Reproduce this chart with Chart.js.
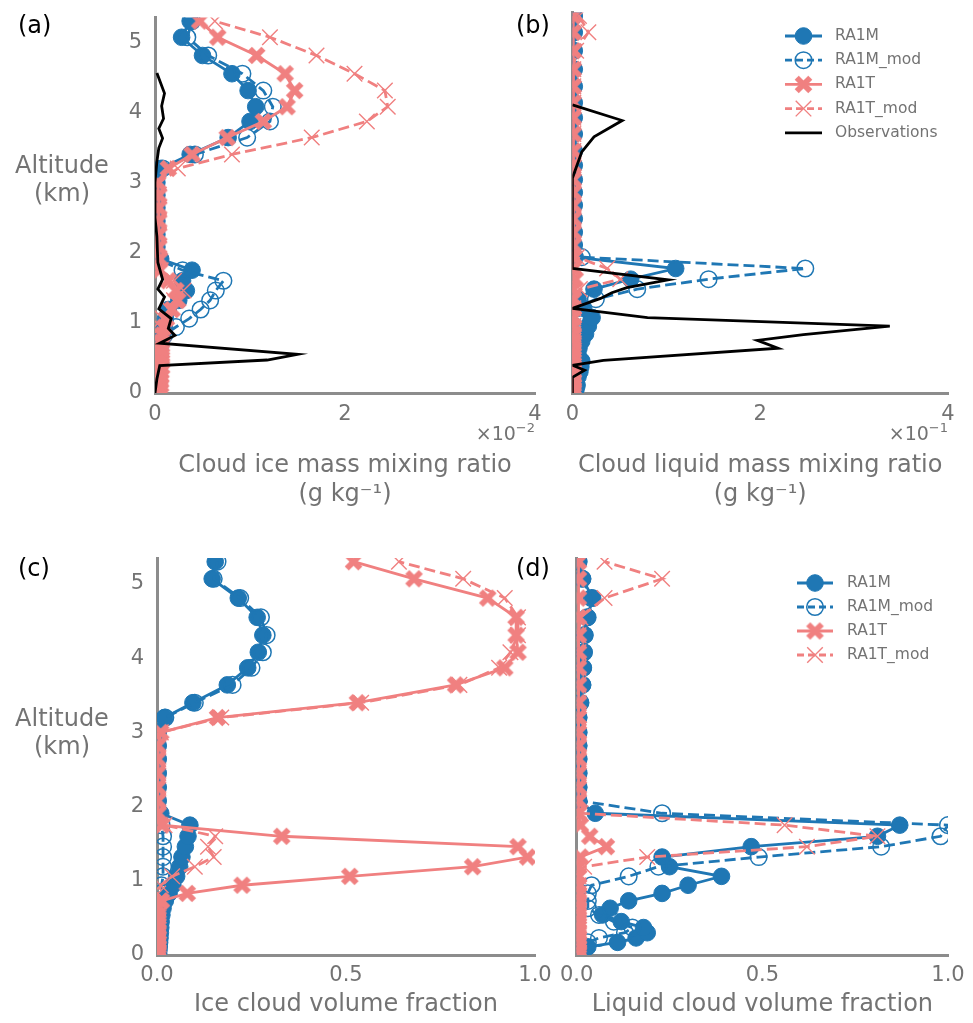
<!DOCTYPE html>
<html><head><meta charset="utf-8">
<script src="https://cdn.jsdelivr.net/npm/chart.js@4.4.0/dist/chart.umd.min.js"></script>
<style>
body{margin:0;background:#fff;}
#wrap{position:relative;width:973px;height:1023px;overflow:hidden;font-family:'DejaVu Sans',sans-serif;background:#fff;}
canvas{position:absolute;}
.lab{position:absolute;font-size:24px;color:#000;line-height:28px;white-space:nowrap;}
.ytitle{position:absolute;font-size:24px;color:#737373;text-align:center;line-height:28px;width:124px;left:0;}
.mult{position:absolute;font-size:19px;color:#737373;line-height:24px;white-space:nowrap;}
.mult sup{font-size:13px;vertical-align:top;position:relative;top:-5px;}
</style></head><body>
<div id="wrap">
<canvas id="ca" width="560" height="510" style="left:0;top:0"></canvas>
<canvas id="cb" width="413" height="510" style="left:560px;top:0"></canvas>
<canvas id="cc" width="560" height="513" style="left:0;top:510px"></canvas>
<canvas id="cd" width="413" height="513" style="left:560px;top:510px"></canvas>
<div class="lab" style="left:18px;top:11px">(a)</div>
<div class="lab" style="left:516px;top:11px">(b)</div>
<div class="lab" style="left:18px;top:554px">(c)</div>
<div class="lab" style="left:516px;top:554px">(d)</div>
<div class="ytitle" style="top:151px">Altitude<br>(km)</div>
<div class="ytitle" style="top:704px">Altitude<br>(km)</div>
<div class="mult" style="right:438px;top:421px">×10<sup>−2</sup></div>
<div class="mult" style="right:25px;top:421px">×10<sup>−1</sup></div>
</div>
<script>
// ---------------- DATA ----------------
const seriesNames = ['RA1M', 'RA1M_mod', 'RA1T', 'RA1T_mod', 'Observations'];
// model level altitudes (km), bottom to top
const levels = [0.02, 0.06, 0.11, 0.17, 0.23, 0.30, 0.37, 0.45, 0.54, 0.63,
                0.73, 0.83, 0.94, 1.06, 1.19, 1.32, 1.46, 1.60, 1.75, 1.91,
                2.08, 2.26, 2.45, 2.64, 2.82, 3.00, 3.20, 3.40, 3.64, 3.87,
                4.08, 4.31, 4.55, 4.81, 5.07, 5.30];
const yTicks = [0, 1, 2, 3, 4, 5];
const xTicksMass = [0, 2, 4];
const xTicksFrac = [0, 0.5, 1.0];

// (a) cloud ice mass mixing ratio (x10^-2 g/kg)
const iceRA1M = [0.02,0.02,0.03,0.03,0.03, 0.04,0.04,0.04,0.05,0.05,
                 0.06,0.08,0.10,0.11,0.14, 0.25,0.33,0.29,0.39,0.06,
                 0.02,0.02,0.02,0.02,0.02, 0.02,0.06,0.37,0.77,1.00,
                 1.06,0.98,0.81,0.50,0.28, 0.37];
const iceRA1Mmod = [0.01,0.01,0.02,0.02,0.02, 0.02,0.03,0.03,0.03,0.04,
                    0.06,0.10,0.22,0.36,0.48, 0.58,0.64,0.72,0.29,0.02,
                    0.01,0.01,0.01,0.01,0.01, 0.01,0.08,0.42,0.97,1.21,
                    1.24,1.14,0.92,0.56,0.34, 0.39];
const iceRA1T = [0.05,0.05,0.06,0.06,0.06, 0.06,0.07,0.07,0.07,0.07,
                 0.07,0.08,0.10,0.12,0.18, 0.24,0.22,0.14,0.05,0.05,
                 0.04,0.04,0.04,0.04,0.04, 0.03,0.14,0.39,0.76,1.14,
                 1.39,1.47,1.37,1.07,0.66, 0.47];
const iceRA1Tmod = [0.04,0.04,0.04,0.04,0.04, 0.04,0.04,0.04,0.04,0.04,
                    0.05,0.05,0.06,0.08,0.15, 0.20,0.30,0.20,0.06,0.04,
                    0.04,0.04,0.04,0.04,0.04, 0.04,0.24,0.81,1.65,2.23,
                    2.45,2.42,2.10,1.70,1.21, 0.63];
const obsIceAlt = [0.00,0.20,0.39,0.47,0.55,0.71,0.82,0.92,1.06,1.20,1.37,1.48,1.62,
                   1.86,2.23,2.50,3.00,3.30,3.49,3.63,3.77,3.91,4.09,4.27,4.56];
const obsIceVal = [0.00,0.02,0.05,1.18,1.50,0.05,0.21,0.14,0.17,0.04,0.10,0.03,0.08,
                   0.03,0.02,0.00,0.00,0.02,0.04,0.08,0.04,0.09,0.07,0.10,0.02];

// (b) cloud liquid mass mixing ratio (x10^-1 g/kg)
const liqRA1M = [0.03,0.04,0.05,0.04,0.06, 0.08,0.09,0.10,0.06,0.07,
                 0.10,0.14,0.17,0.21,0.12, 0.06,0.23,0.62,1.10,0.03,
                 0.02,0.02,0.02,0.02,0.02, 0.02,0.02,0.02,0.02,0.02,
                 0.02,0.02,0.02,0.02,0.02, 0.02];
const liqRA1Mmod = [0.02,0.02,0.02,0.02,0.02, 0.03,0.03,0.03,0.02,0.02,
                    0.02,0.02,0.02,0.03,0.04, 0.25,0.69,1.45,2.48,0.10,
                    0.01,0.01,0.01,0.01,0.01, 0.01,0.01,0.01,0.01,0.01,
                    0.01,0.01,0.01,0.01,0.01, 0.01];
const liqRA1T = [0.01,0.01,0.01,0.01,0.01, 0.01,0.01,0.01,0.01,0.01,
                 0.01,0.01,0.01,0.01,0.01, 0.01,0.01,0.03,0.01,0.01,
                 0.01,0.01,0.01,0.01,0.01, 0.01,0.01,0.01,0.01,0.01,
                 0.01,0.01,0.01,0.01,0.01, 0.01];
const liqRA1Tmod = [0.01,0.01,0.01,0.01,0.01, 0.01,0.01,0.01,0.01,0.01,
                    0.01,0.01,0.01,0.01,0.01, 0.01,0.08,0.51,0.37,0.05,
                    0.01,0.01,0.01,0.01,0.01, 0.01,0.01,0.01,0.01,0.01,
                    0.01,0.01,0.01,0.04,0.17, 0.07];
const obsLiqAlt = [0.00,0.22,0.32,0.39,0.46,0.63,0.74,0.82,0.94,1.06,1.19,1.33,1.41,
                   1.48,1.59,1.75,2.00,3.02,3.39,3.60,3.83,4.05];
const obsLiqVal = [0.00,0.00,0.13,0.00,0.33,2.19,1.97,2.46,3.38,0.80,0.00,0.30,0.42,
                   0.58,1.02,0.00,0.00,0.00,0.10,0.23,0.53,0.00];

// (c) ice cloud volume fraction
const iceFrRA1M = [0.004,0.005,0.006,0.007,0.008, 0.009,0.010,0.011,0.013,0.016,
                   0.022,0.032,0.042,0.052,0.060, 0.066,0.075,0.082,0.087,0.010,
                   0.003,0.003,0.003,0.003,0.003, 0.003,0.020,0.095,0.186,0.240,
                   0.268,0.280,0.265,0.215,0.146, 0.154];
const iceFrRA1Mmod = [0.003,0.003,0.004,0.004,0.005, 0.005,0.006,0.007,0.008,0.009,
                      0.010,0.011,0.012,0.016,0.016, 0.016,0.016,0.016,0.012,0.003,
                      0.002,0.002,0.002,0.002,0.002, 0.002,0.022,0.100,0.200,0.250,
                      0.280,0.290,0.275,0.220,0.150, 0.160];
const iceFrRA1T = [0.003,0.003,0.003,0.003,0.003, 0.003,0.003,0.003,0.003,0.003,
                   0.012,0.080,0.225,0.510,0.835, 0.980,0.955,0.330,0.013,0.003,
                   0.002,0.002,0.002,0.002,0.002, 0.010,0.160,0.530,0.790,0.920,
                   0.955,0.950,0.950,0.875,0.680, 0.520];
const iceFrRA1Tmod = [0.003,0.003,0.003,0.003,0.003, 0.003,0.003,0.003,0.003,0.003,
                      0.003,0.003,0.010,0.040,0.100, 0.150,0.135,0.154,0.020,0.003,
                      0.003,0.003,0.003,0.003,0.003, 0.010,0.170,0.540,0.800,0.905,
                      0.935,0.955,0.955,0.920,0.810, 0.640];

// (d) liquid cloud volume fraction
const liqFrRA1M = [0.005,0.010,0.030,0.110,0.160, 0.190,0.180,0.120,0.070,0.090,
                   0.140,0.230,0.300,0.390,0.250, 0.230,0.470,0.810,0.870,0.050,
                   0.005,0.005,0.005,0.005,0.005, 0.005,0.005,0.010,0.016,0.018,
                   0.020,0.022,0.030,0.043,0.016, 0.005];
const liqFrRA1Mmod = [0.003,0.005,0.010,0.030,0.060, 0.130,0.150,0.100,0.060,0.030,
                      0.030,0.030,0.040,0.140,0.220, 0.490,0.820,0.980,1.000,0.230,
                      0.005,0.005,0.005,0.005,0.005, 0.005,0.005,0.010,0.015,0.017,
                      0.019,0.021,0.028,0.040,0.015, 0.005];
const liqFrRA1T = [0.005,0.005,0.005,0.005,0.005, 0.005,0.005,0.005,0.005,0.005,
                   0.005,0.005,0.005,0.005,0.005, 0.010,0.080,0.035,0.010,0.005,
                   0.005,0.005,0.005,0.005,0.005, 0.005,0.005,0.005,0.005,0.005,
                   0.005,0.005,0.005,0.005,0.005, 0.005];
const liqFrRA1Tmod = [0.005,0.005,0.005,0.005,0.005, 0.005,0.005,0.005,0.005,0.005,
                      0.005,0.005,0.005,0.005,0.020, 0.190,0.620,0.810,0.560,0.010,
                      0.005,0.005,0.005,0.005,0.005, 0.005,0.005,0.005,0.005,0.005,
                      0.005,0.005,0.010,0.075,0.230, 0.075];

// ---------------- STYLE / BUILD ----------------
const BLUE = '#1f77b4', RED = '#f08080', TXT = '#737373', AXIS = '#8c8c8c';
const FONT = "'DejaVu Sans', sans-serif";
const YMAX = 5.35;
const LW = 2.8, DASH = [11, 5];

function makeFilledX(color) {
  const size = 21, c = document.createElement('canvas');
  c.width = c.height = size;
  const g = c.getContext('2d');
  const h = size / 2, w = 2.9, L = 9.6;
  g.translate(h, h); g.rotate(Math.PI / 4); g.fillStyle = color;
  g.fillRect(-L, -w, 2 * L, 2 * w); g.fillRect(-w, -L, 2 * w, 2 * L);
  return c;
}
const xImg = makeFilledX(RED);

function pts(vals, alt) { return alt.map((y, i) => ({x: vals[i], y: y})); }

function datasetsFor(m, mmod, t, tmod, obsVal, obsAlt) {
  const ds = [
    {label: seriesNames[0], data: pts(m, levels), borderColor: BLUE, borderWidth: LW,
     pointStyle: 'circle', pointRadius: 8.3, pointBackgroundColor: BLUE, pointBorderColor: BLUE,
     pointBorderWidth: 1, order: 5},
    {label: seriesNames[1], data: pts(mmod, levels), borderColor: BLUE, borderWidth: LW, borderDash: DASH,
     pointStyle: 'circle', pointRadius: 8.3, pointBackgroundColor: 'rgba(0,0,0,0)', pointBorderColor: BLUE,
     pointBorderWidth: 1.5, order: 4},
    {label: seriesNames[2], data: pts(t, levels), borderColor: RED, borderWidth: LW,
     pointStyle: xImg, pointRadius: 9, pointBackgroundColor: RED, pointBorderColor: RED, order: 3},
    {label: seriesNames[3], data: pts(tmod, levels), borderColor: RED, borderWidth: LW, borderDash: DASH,
     pointStyle: 'crossRot', pointRadius: 11, pointBorderColor: RED, pointBackgroundColor: RED,
     pointBorderWidth: 1.4, order: 2}
  ];
  if (obsVal) {
    ds.push({label: seriesNames[4], data: pts(obsVal, obsAlt), borderColor: '#000', borderWidth: LW,
      pointRadius: 0, order: 1});
  }
  ds.forEach(d => { d.showLine = true; d.fill = false; d.tension = 0; });
  return ds;
}

function drawMarker(ctx, ds, x, y) {
  const ps = ds.pointStyle;
  ctx.save();
  if (ps === 'circle') {
    ctx.beginPath(); ctx.arc(x, y, ds.pointRadius, 0, Math.PI * 2);
    ctx.fillStyle = ds.pointBackgroundColor; ctx.fill();
    ctx.lineWidth = ds.pointBorderWidth; ctx.strokeStyle = ds.pointBorderColor; ctx.stroke();
  } else if (ps === 'crossRot') {
    const d = ds.pointRadius * Math.SQRT1_2;
    ctx.beginPath();
    ctx.moveTo(x - d, y - d); ctx.lineTo(x + d, y + d);
    ctx.moveTo(x - d, y + d); ctx.lineTo(x + d, y - d);
    ctx.lineWidth = ds.pointBorderWidth; ctx.strokeStyle = ds.pointBorderColor; ctx.stroke();
  } else if (ps && ps.width) {
    ctx.drawImage(ps, x - ps.width / 2, y - ps.height / 2);
  }
  ctx.restore();
}

function legendPlugin(cfg) {
  return {
    id: 'mplLegend',
    afterDraw(chart) {
      const ctx = chart.ctx;
      chart.data.datasets.forEach((ds, i) => {
        const y = cfg.y0 + i * cfg.dy;
        ctx.save();
        ctx.strokeStyle = ds.borderColor; ctx.lineWidth = ds.borderWidth;
        ctx.setLineDash(ds.borderDash ? [7, 4] : []);
        ctx.beginPath(); ctx.moveTo(cfg.x1, y); ctx.lineTo(cfg.x2, y); ctx.stroke();
        ctx.setLineDash([]);
        if (ds.pointRadius) drawMarker(ctx, ds, (cfg.x1 + cfg.x2) / 2, y);
        ctx.fillStyle = TXT; ctx.font = "15.5px 'DejaVu Sans'";
        ctx.textBaseline = 'middle'; ctx.textAlign = 'left';
        ctx.fillText(ds.label, cfg.tx, y);
        ctx.restore();
      });
    }
  };
}

function makeChart(id, datasets, cfg) {
  const plugins = cfg.legend ? [legendPlugin(cfg.legend)] : [];
  return new Chart(document.getElementById(id), {
    type: 'scatter',
    data: {datasets: datasets},
    options: {
      responsive: false, animation: false, devicePixelRatio: 1, events: [],
      layout: {padding: {left: cfg.pl, right: cfg.pr, top: cfg.pt, bottom: 0}},
      plugins: {legend: {display: false}, tooltip: {enabled: false}},
      scales: {
        x: {type: 'linear', min: cfg.xmin, max: cfg.xmax,
            grid: {display: false}, border: {color: AXIS, width: 3},
            afterBuildTicks: s => { s.ticks = cfg.xticks.map(v => ({value: v})); },
            afterFit: s => { s.height = cfg.xh; },
            ticks: {color: TXT, font: {size: 21, family: FONT}, padding: cfg.tp, maxRotation: 0,
                    callback: cfg.xfmt},
            title: {display: true, text: cfg.xtitle, color: TXT,
                    font: {size: 24, family: FONT, lineHeight: 1.2},
                    padding: {top: 0, bottom: cfg.tpb}}},
        y: {type: 'linear', min: 0, max: YMAX,
            grid: {display: false}, border: {color: AXIS, width: 3},
            afterBuildTicks: s => { s.ticks = yTicks.map(v => ({value: v})); },
            afterFit: s => { s.width = cfg.yw; },
            ticks: {display: cfg.ylab, color: TXT, font: {size: 21, family: FONT}, padding: 5}}
      }
    },
    plugins: plugins
  });
}

const fmtInt = v => String(v);
const fmtFrac = v => v.toFixed(1);

makeChart('ca', datasetsFor(iceRA1M, iceRA1Mmod, iceRA1T, iceRA1Tmod, obsIceVal, obsIceAlt), {
  pl: 0, yw: 155, pr: 25, pt: 12, xh: 117, tpb: 1, tp: 1, xmin: 0, xmax: 4, xticks: xTicksMass, xfmt: fmtInt,
  ylab: true, xtitle: ['Cloud ice mass mixing ratio', '(g kg\u207B\u00B9)']});
makeChart('cb', datasetsFor(liqRA1M, liqRA1Mmod, liqRA1T, liqRA1Tmod, obsLiqVal, obsLiqAlt), {
  pl: 12, yw: 0, pr: 25, pt: 12, xh: 117, tpb: 1, tp: 1, xmin: 0, xmax: 4, xticks: xTicksMass, xfmt: fmtInt,
  ylab: false, xtitle: ['Cloud liquid mass mixing ratio', '(g kg\u207B\u00B9)'],
  legend: {x1: 225, x2: 262, tx: 275, y0: 36, dy: 24.2}});
makeChart('cc', datasetsFor(iceFrRA1M, iceFrRA1Mmod, iceFrRA1T, iceFrRA1Tmod), {
  pl: 0, yw: 157, pr: 25, pt: 48, xh: 68, tpb: 3.6, tp: 0, xmin: 0, xmax: 1, xticks: xTicksFrac, xfmt: fmtFrac,
  ylab: true, xtitle: 'Ice cloud volume fraction'});
makeChart('cd', datasetsFor(liqFrRA1M, liqFrRA1Mmod, liqFrRA1T, liqFrRA1Tmod), {
  pl: 12, yw: 0, pr: 25, pt: 48, xh: 68, tpb: 3.6, tp: 0, xmin: 0, xmax: 1, xticks: xTicksFrac, xfmt: fmtFrac,
  ylab: false, xtitle: 'Liquid cloud volume fraction',
  legend: {x1: 237, x2: 273, tx: 287, y0: 73, dy: 24}});
</script>
</body></html>
